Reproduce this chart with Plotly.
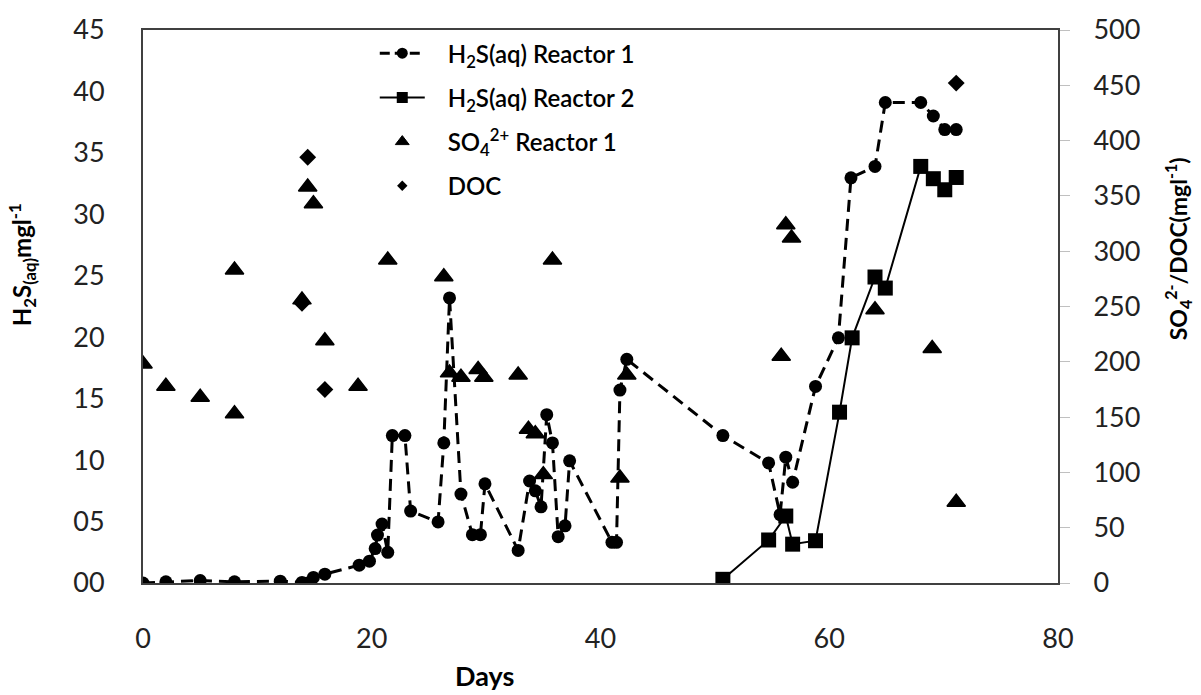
import plotly.graph_objects as go

# ---- data ----
r1_days = [0, 2, 5, 8, 12, 13.9, 14.4, 14.9, 15.9, 18.9, 19.8, 20.3, 20.5, 20.9, 21.4,
           21.8, 22.9, 23.4, 25.8, 26.3, 26.8, 27.8, 28.8, 29.5, 29.9, 32.8, 33.8, 34.3,
           34.8, 35.3, 35.8, 36.3, 36.9, 37.3, 41.0, 41.4, 41.7, 42.3, 50.7, 54.7, 55.7,
           56.2, 56.8, 58.8, 60.8, 61.9, 64.0, 64.9, 68.0, 69.1, 70.1, 71.1]
r1_h2s = [0, 0.1, 0.2, 0.1, 0.15, 0.05, 0.0, 0.45, 0.72, 1.45, 1.78, 2.8, 3.9, 4.8, 2.5,
          12.0, 12.0, 5.85, 4.97, 11.4, 23.2, 7.24, 3.93, 3.93, 8.07, 2.65, 8.3, 7.5,
          6.2, 13.7, 11.4, 3.77, 4.65, 9.94, 3.31, 3.31, 15.7, 18.2, 12.0, 9.77, 5.56,
          10.24, 8.2, 16.0, 19.95, 32.97, 33.9, 39.1, 39.1, 38.0, 36.9, 36.9]

r2_days = [50.7, 54.7, 56.2, 56.8, 58.8, 60.9, 62.0, 64.0, 64.9, 68.0, 69.1, 70.1, 71.1]
r2_h2s = [0.3, 3.5, 5.45, 3.16, 3.44, 13.9, 19.95, 24.9, 24.0, 33.9, 32.9, 32.0, 33.0]

so4_days = [0, 2, 5, 8, 8, 13.9, 14.4, 14.9, 15.9, 18.8, 21.4, 26.3, 26.8, 27.8, 29.3,
            29.8, 32.8, 33.7, 34.3, 35.0, 35.8, 41.7, 42.3, 55.8, 56.2, 56.7, 64.0, 69.0, 71.1]
so4_vals = [198, 178, 168, 153, 283, 256, 358, 343, 219, 178, 292, 277, 190, 186, 193,
            186, 188, 139, 135, 98, 292, 95, 188, 205, 324, 312, 247, 212, 73]

doc_days = [13.9, 14.4, 15.9, 71.1]
doc_vals = [253, 385, 175, 452]

left_ticks = [0, 5, 10, 15, 20, 25, 30, 35, 40, 45]
left_labels = ["00", "05", "10", "15", "20", "25", "30", "35", "40", "45"]
right_ticks = [0, 50, 100, 150, 200, 250, 300, 350, 400, 450, 500]
x_ticks = [0, 20, 40, 60, 80]

GAP = "\u00a0\u00a0\u00a0"
name_r1 = GAP + "H<sub>2</sub>S(aq) Reactor 1"
name_r2 = GAP + "H<sub>2</sub>S(aq) Reactor 2"
name_so4 = GAP + "SO<sub>4</sub><sup>2+</sup> Reactor 1"
name_doc = GAP + "DOC"

FONT = "Lato"
AX = "#404040"
TICKC = "#222222"

fig = go.Figure()

# data traces
fig.add_trace(go.Scatter(x=r1_days, y=r1_h2s, mode="lines+markers", showlegend=False,
                         line=dict(color="black", width=3, dash="12px,7px"),
                         marker=dict(symbol="circle", size=13, color="black")))
fig.add_trace(go.Scatter(x=r2_days, y=r2_h2s, mode="lines+markers", showlegend=False,
                         line=dict(color="black", width=2),
                         marker=dict(symbol="square", size=15, color="black")))
fig.add_trace(go.Scatter(x=so4_days, y=so4_vals, mode="markers", yaxis="y2", showlegend=False,
                         marker=dict(symbol="triangle-up", size=16, color="black",
                                     line=dict(color="black", width=1.5))))
fig.add_trace(go.Scatter(x=doc_days, y=doc_vals, mode="markers", yaxis="y2", showlegend=False,
                         marker=dict(symbol="diamond", size=13, color="black")))

# legend entries
fig.add_trace(go.Scatter(x=[None], y=[None], mode="lines+markers", name=name_r1, legendgroup="a",
                         line=dict(color="black", width=3, dash="10px,5px"),
                         marker=dict(symbol="circle", size=11, color="black")))
fig.add_trace(go.Scatter(x=[None], y=[None], mode="lines+markers", name=name_r2, legendgroup="b",
                         line=dict(color="black", width=2),
                         marker=dict(symbol="square", size=11, color="black")))
fig.add_trace(go.Scatter(x=[None], y=[None], mode="markers", name=name_so4, legendgroup="c",
                         marker=dict(symbol="triangle-up", size=12, color="black",
                                     line=dict(color="black", width=1))))
fig.add_trace(go.Scatter(x=[None], y=[None], mode="markers", name=name_doc, legendgroup="d",
                         marker=dict(symbol="diamond", size=8, color="black")))

fig.update_layout(
    width=1201, height=695,
    margin=dict(l=143, r=143, t=22, b=112),
    paper_bgcolor="white", plot_bgcolor="white",
    font=dict(family=FONT, color="black"),
    showlegend=True,
    legend=dict(x=0.2533, y=0.998, xanchor="left", yanchor="top",
                bgcolor="rgba(0,0,0,0)", borderwidth=0,
                font=dict(family=FONT, size=24, color="black", weight=600),
                itemwidth=45, tracegroupgap=10, traceorder="grouped"),
    xaxis=dict(range=[0, 80], tickvals=x_ticks, showgrid=False, zeroline=False,
               showline=True, linecolor=AX, linewidth=2, mirror=True, ticks="",
               ticklabelstandoff=31, tickfont=dict(family=FONT, size=27, color=TICKC)),
    yaxis=dict(range=[0, 45], tickvals=left_ticks, ticktext=left_labels, showgrid=False,
               zeroline=False, showline=True, linecolor=AX, linewidth=2, mirror=False,
               ticks="", ticklabelstandoff=31,
               tickfont=dict(family=FONT, size=27, color=TICKC)),
    yaxis2=dict(range=[0, 500], tickvals=right_ticks, overlaying="y", side="right",
                showgrid=False, zeroline=False, showline=True, linecolor=AX, linewidth=2,
                ticks="outside", ticklen=10, tickcolor="#c0c0c0", tickwidth=1,
                ticklabelstandoff=18, tickfont=dict(family=FONT, size=27, color=TICKC)),
    annotations=[
        dict(text="Days", x=0.373, y=-0.168, xref="paper", yref="paper", showarrow=False,
             xanchor="center", yanchor="middle", font=dict(family=FONT, size=27, weight="bold")),
        dict(text="H<sub>2</sub>S<sub>(aq)</sub>mgl<sup>-1</sup>", x=-0.132, y=0.575,
             xref="paper", yref="paper", showarrow=False, textangle=-90,
             xanchor="center", yanchor="middle", font=dict(family=FONT, size=24, weight="bold")),
        dict(text="SO<sub>4</sub><sup>2-</sup>/DOC(mgl<sup>-1</sup>)", x=1.131, y=0.605,
             xref="paper", yref="paper", showarrow=False, textangle=-90,
             xanchor="center", yanchor="middle", font=dict(family=FONT, size=23, weight="bold")),
    ],
)

fig.write_html("out.html")
